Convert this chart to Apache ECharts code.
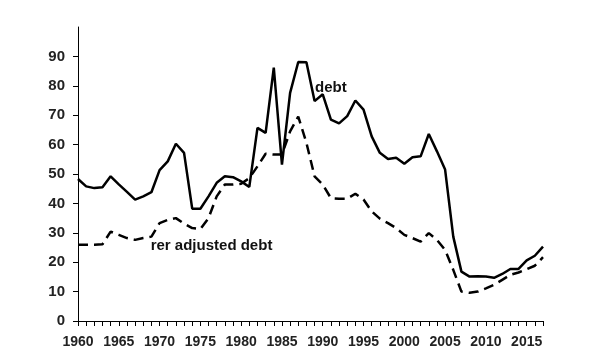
<!DOCTYPE html>
<html>
<head>
<meta charset="utf-8">
<script src="https://cdn.jsdelivr.net/npm/echarts@6/dist/echarts.min.js"></script>
<style>
html,body{margin:0;padding:0;background:#fff;}
#c{width:600px;height:360px;}
</style>
</head>
<body>
<div id="c"></div>
<script>
var years = [];
for (var y = 1960; y <= 2017; y++) years.push(String(y));

var debt = [48.3,45.8,45.2,45.5,49.2,46.5,43.9,41.3,42.4,43.8,
            51.3,54.3,60.3,57.2,38.2,38.2,42.4,47.0,49.2,48.9,
            47.5,45.6,65.7,64.0,86.2,53.2,77.6,88.1,88.0,74.8,
            77.1,68.5,67.2,69.7,75.0,71.9,62.8,57.2,55.1,55.5,
            53.5,55.7,56.0,63.6,57.7,51.5,28.7,16.8,15.1,15.2,
            15.1,14.7,16.0,17.7,17.7,20.6,22.2,25.3];

var rerDebt = [25.9,25.9,25.9,26.1,30.4,29.3,28.2,27.6,28.2,28.7,
               33.3,34.4,35.0,33.1,31.6,31.3,35.0,42.4,46.4,46.4,
               46.7,48.6,52.6,56.9,56.6,56.6,64.5,69.5,60.6,49.2,
               46.4,41.8,41.6,41.6,43.3,41.3,37.3,34.8,33.3,31.6,
               29.3,28.2,27.0,29.9,27.6,24.2,17.4,10.0,9.6,10.0,
               11.1,12.3,14.0,15.7,16.5,17.6,18.8,21.7];

var seriesNames = ['debt', 'rer adjusted debt'];

var chart = echarts.init(document.getElementById('c'), null, {renderer: 'canvas'});
var font = 'Liberation Sans, Arial, sans-serif';
chart.setOption({
  animation: false,
  backgroundColor: '#fff',
  grid: {left: 78, right: 57, top: 27, bottom: 39, containLabel: false},
  xAxis: {
    type: 'category',
    data: years,
    boundaryGap: false,
    axisLine: {lineStyle: {color: '#000', width: 1}},
    axisTick: {show: true, interval: 0, length: 5, lineStyle: {color: '#000'}},
    axisLabel: {interval: 4, color: '#222', fontFamily: font, fontWeight: 'bold', fontSize: 14, margin: 14},
    splitLine: {show: false}
  },
  yAxis: {
    type: 'value',
    min: 0, max: 100, interval: 10,
    axisLine: {show: true, lineStyle: {color: '#000', width: 1}},
    axisTick: {show: true, length: 5, lineStyle: {color: '#000'}},
    axisLabel: {showMaxLabel: false, color: '#222', fontFamily: font, fontWeight: 'bold', fontSize: 15, margin: 13},
    splitLine: {show: false}
  },
  series: [
    {
      name: seriesNames[0],
      type: 'line',
      data: debt,
      showSymbol: false,
      symbol: 'none',
      lineStyle: {color: '#000', width: 2.5, type: 'solid'},
      markPoint: {
        symbol: 'circle', symbolSize: 0,
        label: {show: true, position: 'inside', formatter: seriesNames[0], color: '#111', fontFamily: font, fontWeight: 'bold', fontSize: 15},
        data: [{coord: ['1991', 79.4]}]
      }
    },
    {
      name: seriesNames[1],
      type: 'line',
      data: rerDebt,
      showSymbol: false,
      symbol: 'none',
      lineStyle: {color: '#000', width: 2.5, type: [10, 6]},
      markPoint: {
        symbol: 'circle', symbolSize: 0,
        label: {show: true, position: 'inside', offset: [3, 0], formatter: seriesNames[1], color: '#111', fontFamily: font, fontWeight: 'bold', fontSize: 15},
        data: [{coord: ['1976', 25.4]}]
      }
    }
  ]
});
</script>
</body>
</html>
